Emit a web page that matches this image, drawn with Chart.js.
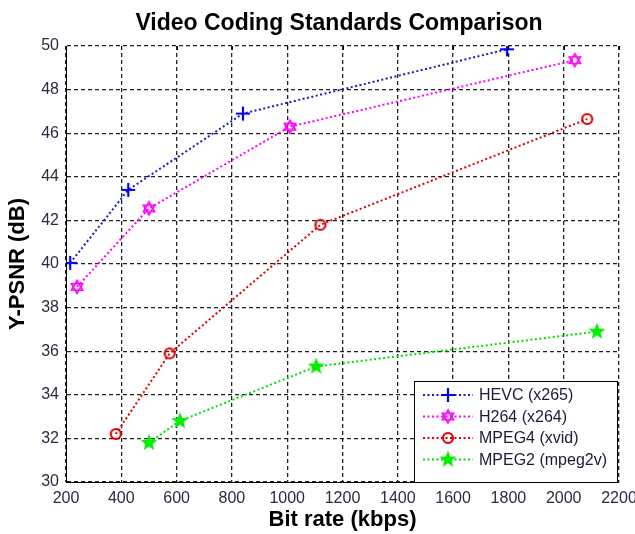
<!DOCTYPE html>
<html>
<head>
<meta charset="utf-8">
<script src="https://cdn.jsdelivr.net/npm/chart.js@4.4.1/dist/chart.umd.min.js"></script>
<style>
  html, body { margin: 0; padding: 0; background: #fff; }
  #wrap { width: 635px; height: 534px; }
</style>
</head>
<body>
<div id="wrap"><canvas id="psnrChart" width="635" height="534"></canvas></div>
<script>
// values
const seriesNames = ['HEVC (x265)', 'H264 (x264)', 'MPEG4 (xvid)', 'MPEG2 (mpeg2v)'];
const hevcRate = [215, 425, 840, 1795];
const hevcPsnr = [40.05, 43.4, 46.9, 49.85];
const h264Rate = [240, 500, 1010, 2040];
const h264Psnr = [38.95, 42.55, 46.3, 49.35];
const mpeg4Rate = [380, 575, 1120, 2085];
const mpeg4Psnr = [32.2, 35.9, 41.8, 46.65];
const mpeg2Rate = [500, 612, 1105, 2120];
const mpeg2Psnr = [31.8, 32.8, 35.3, 36.9];
const xTickValues = [200, 400, 600, 800, 1000, 1200, 1400, 1600, 1800, 2000, 2200];
const yTickValues = [30, 32, 34, 36, 38, 40, 42, 44, 46, 48, 50];

const toPoints = (xs, ys) => xs.map((x, i) => ({ x: x, y: ys[i] }));
const FONT = 'Arial, "Liberation Sans", sans-serif';

// little canvases for the MATLAB style markers
function makeMarker(kind, color) {
  const c = document.createElement('canvas');
  c.width = 20; c.height = 20;
  const g = c.getContext('2d');
  g.strokeStyle = color;
  g.fillStyle = color;
  g.lineWidth = 2.2;
  const cx = 10, cy = 10;
  if (kind === 'plus') {
    g.beginPath();
    g.moveTo(cx - 7, cy); g.lineTo(cx + 7, cy);
    g.moveTo(cx, cy - 7); g.lineTo(cx, cy + 7);
    g.stroke();
  } else if (kind === 'circle') {
    g.beginPath();
    g.arc(cx, cy, 5, 0, Math.PI * 2);
    g.stroke();
  } else if (kind === 'hexagram') {
    g.lineWidth = 1.6;
    const r = 6.5;
    for (let t = 0; t < 2; t++) {
      g.beginPath();
      for (let k = 0; k < 3; k++) {
        const a = -Math.PI / 2 + t * Math.PI + k * 2 * Math.PI / 3;
        const px = cx + r * Math.cos(a), py = cy + r * Math.sin(a);
        if (k === 0) g.moveTo(px, py); else g.lineTo(px, py);
      }
      g.closePath();
      g.stroke();
    }
  } else if (kind === 'pentagram') {
    const ro = 9, ri = 3.8;
    g.beginPath();
    for (let k = 0; k < 10; k++) {
      const a = -Math.PI / 2 + k * Math.PI / 5;
      const r = k % 2 === 0 ? ro : ri;
      const px = cx + r * Math.cos(a), py = cy + r * Math.sin(a);
      if (k === 0) g.moveTo(px, py); else g.lineTo(px, py);
    }
    g.closePath();
    g.fill();
  }
  return c;
}

const lineColors = ['#1c1cb8', '#ff00ff', '#e00000', '#00e000'];
const markerImgs = [
  makeMarker('plus', '#0000ff'),
  makeMarker('hexagram', '#ff00ff'),
  makeMarker('circle', '#e00000'),
  makeMarker('pentagram', '#00f000')
];

function makeDataset(i, xs, ys) {
  return {
    label: seriesNames[i],
    data: toPoints(xs, ys),
    borderColor: lineColors[i],
    borderWidth: 2,
    borderDash: [2, 2.5],
    pointStyle: markerImgs[i],
    pointRadius: 6,
    fill: false,
    tension: 0
  };
}

// title + boxed legend drawn on top, MATLAB like
const decorPlugin = {
  id: 'decor',
  afterDraw(chart) {
    const ctx = chart.ctx;
    const area = chart.chartArea;
    ctx.save();
    ctx.fillStyle = '#000';
    ctx.font = 'bold 23px ' + FONT;
    ctx.textAlign = 'center';
    ctx.textBaseline = 'middle';
    ctx.fillText('Video Coding Standards Comparison', 339, 24);

    // little tick marks along the top edge
    ctx.strokeStyle = '#000';
    ctx.lineWidth = 1;
    ctx.setLineDash([]);
    const xs = chart.scales.x;
    xTickValues.forEach(v => {
      const px = Math.round(xs.getPixelForValue(v)) + 0.5;
      ctx.beginPath();
      ctx.moveTo(px, area.top);
      ctx.lineTo(px, area.top + 4);
      ctx.stroke();
    });

    const boxL = 414, boxR = area.right - 2, boxT = 381, boxB = area.bottom;
    ctx.fillStyle = '#fff';
    ctx.fillRect(boxL, boxT, boxR - boxL, boxB - boxT);
    ctx.strokeStyle = '#000';
    ctx.strokeRect(boxL + 0.5, boxT + 0.5, boxR - boxL, boxB - boxT);

    ctx.font = '16px ' + FONT;
    ctx.textAlign = 'left';
    chart.data.datasets.forEach((ds, i) => {
      const y = 395 + i * 21.5;
      ctx.strokeStyle = ds.borderColor;
      ctx.lineWidth = 2;
      ctx.setLineDash([2, 2.5]);
      ctx.beginPath();
      ctx.moveTo(423, y);
      ctx.lineTo(473, y);
      ctx.stroke();
      ctx.setLineDash([]);
      const img = markerImgs[i];
      ctx.drawImage(img, 448 - img.width / 2, y - img.height / 2);
      ctx.fillStyle = '#1a1a3a';
      ctx.fillText(ds.label, 479, y + 1);
    });
    ctx.restore();
  }
};

const ctx = document.getElementById('psnrChart').getContext('2d');
new Chart(ctx, {
  type: 'line',
  data: {
    datasets: [
      makeDataset(0, hevcRate, hevcPsnr),
      makeDataset(1, h264Rate, h264Psnr),
      makeDataset(2, mpeg4Rate, mpeg4Psnr),
      makeDataset(3, mpeg2Rate, mpeg2Psnr)
    ]
  },
  options: {
    responsive: false,
    animation: false,
    layout: { padding: { top: 46, right: 16, left: 0, bottom: 0 } },
    plugins: {
      legend: { display: false },
      title: { display: false },
      tooltip: { enabled: false }
    },
    scales: {
      x: {
        type: 'linear',
        min: 200,
        max: 2200,
        afterBuildTicks: (axis) => { axis.ticks = xTickValues.map(v => ({ value: v })); },
        afterFit: (axis) => { axis.height = 52; axis.paddingLeft = 0; axis.paddingRight = 0; },
        grid: { color: '#222', lineWidth: 1.3, drawTicks: false },
        border: { display: true, color: '#000', width: 1, dash: [4, 3] },
        ticks: {
          padding: 7,
          color: '#2a2a40',
          font: { size: 16, family: FONT },
          maxRotation: 0,
          autoSkip: false,
          callback: (v) => String(v)
        },
        title: {
          display: true,
          text: 'Bit rate (kbps)',
          color: '#000',
          font: { size: 22, weight: 'bold', family: FONT },
          padding: { top: 0, bottom: 1 }
        }
      },
      y: {
        type: 'linear',
        min: 30,
        max: 50,
        afterBuildTicks: (axis) => { axis.ticks = yTickValues.map(v => ({ value: v })); },
        afterFit: (axis) => { axis.width = 66; axis.paddingTop = 0; axis.paddingBottom = 0; },
        grid: { color: '#222', lineWidth: 1.3, drawTicks: false },
        border: { display: true, color: '#000', width: 1, dash: [4, 3] },
        ticks: {
          padding: 7,
          color: '#2a2a40',
          font: { size: 16, family: FONT },
          autoSkip: false,
          callback: (v) => String(v)
        },
        title: {
          display: true,
          text: 'Y-PSNR (dB)',
          color: '#000',
          font: { size: 22, weight: 'bold', family: FONT },
          padding: { top: 5, bottom: 0 }
        }
      }
    }
  },
  plugins: [decorPlugin]
});
</script>
</body>
</html>
